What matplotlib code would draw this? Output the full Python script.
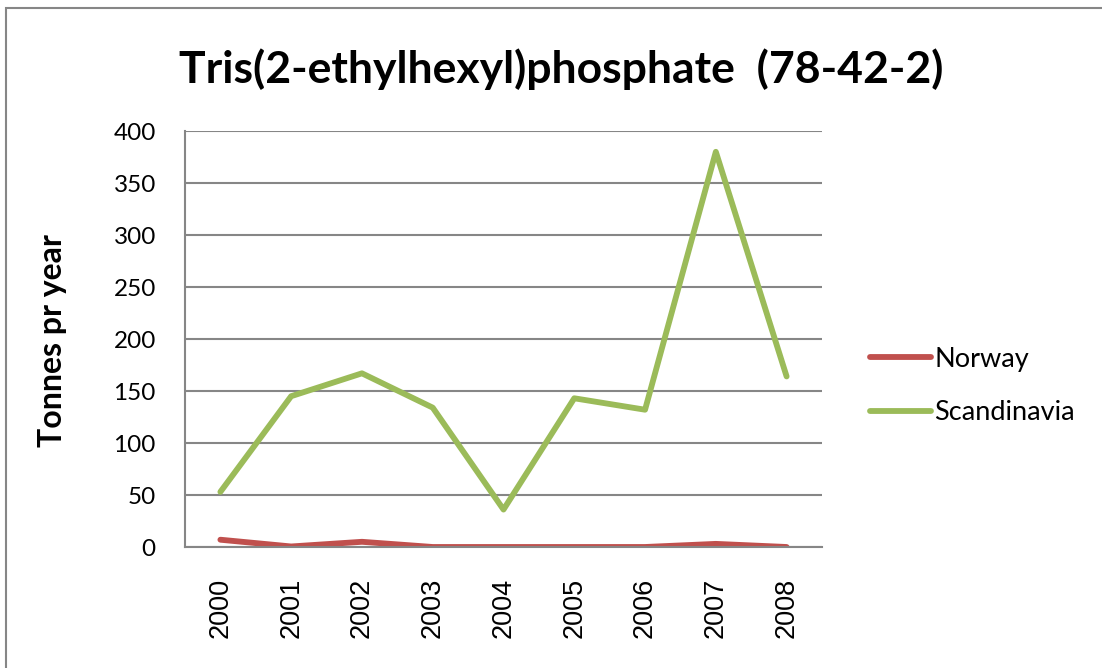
import matplotlib
matplotlib.use("Agg")
import matplotlib.pyplot as plt
from matplotlib.patches import Rectangle
from matplotlib.lines import Line2D

years = ["2000", "2001", "2002", "2003", "2004", "2005", "2006", "2007", "2008"]
norway = [7, 0.5, 5, 0, 0, 0, 0, 3, 0]
scandinavia = [53, 145, 167, 134, 36, 143, 132, 380, 164]
yticks = [0, 50, 100, 150, 200, 250, 300, 350, 400]
title = "Tris(2-ethylhexyl)phosphate  (78-42-2)"

plt.rcParams['font.family'] = ['Lato', 'DejaVu Sans']

fig = plt.figure(figsize=(11.02, 6.68), dpi=100)
W, H = 1102, 668
# outer chart frame
fig.patches.append(Rectangle((6 / W, -0.1), 1.2, 1 - 8 / H + 0.1, transform=fig.transFigure,
                             fill=False, edgecolor="#868686", linewidth=1.5))

ax = fig.add_axes([185 / W, 1 - 547 / H, (822 - 185) / W, (547 - 131) / H])
x = list(range(len(years)))
ax.plot(x, norway, color="#C0504D", linewidth=4.2, solid_capstyle="round", label="Norway")
ax.plot(x, scandinavia, color="#9BBB59", linewidth=4.2, solid_capstyle="round", label="Scandinavia")

ax.set_xlim(-0.5, len(years) - 0.5)
ax.set_ylim(0, 400)
ax.set_yticks(yticks)
ax.set_yticklabels([str(v) for v in yticks], fontsize=17.5)
ax.set_xticks(x)
ax.set_xticklabels(years, rotation=90, fontsize=19.5, family=['Liberation Sans', 'DejaVu Sans'])
ax.tick_params(axis='both', length=0)
ax.tick_params(axis='y', pad=21)
ax.tick_params(axis='x', pad=22)
ax.grid(axis='y', color="#868686", linewidth=1.5)
ax.set_axisbelow(True)
for s in ['top', 'right']:
    ax.spines[s].set_visible(False)
for s in ['left', 'bottom']:
    ax.spines[s].set_color("#868686")
    ax.spines[s].set_linewidth(1.5)

ax.set_ylabel("Tonnes pr year", fontsize=23, fontweight='bold')
ax.yaxis.set_label_coords(67 / W, 1 - 341 / H, transform=fig.transFigure)
fig.text(561 / W, 1 - 69 / H, title, fontsize=32, fontweight='bold', ha='center', va='center')

handles = [Line2D([], [], color="#C0504D", linewidth=4.2, solid_capstyle="round"),
           Line2D([], [], color="#9BBB59", linewidth=4.2, solid_capstyle="round")]
fig.legend(handles, ["Norway", "Scandinavia"], loc='center left',
           bbox_to_anchor=(846 / W, 1 - 386 / H), frameon=False, fontsize=19.5,
           handlelength=2.25, handletextpad=0.1, labelspacing=1.05)

fig.savefig("out.png", dpi=100)
